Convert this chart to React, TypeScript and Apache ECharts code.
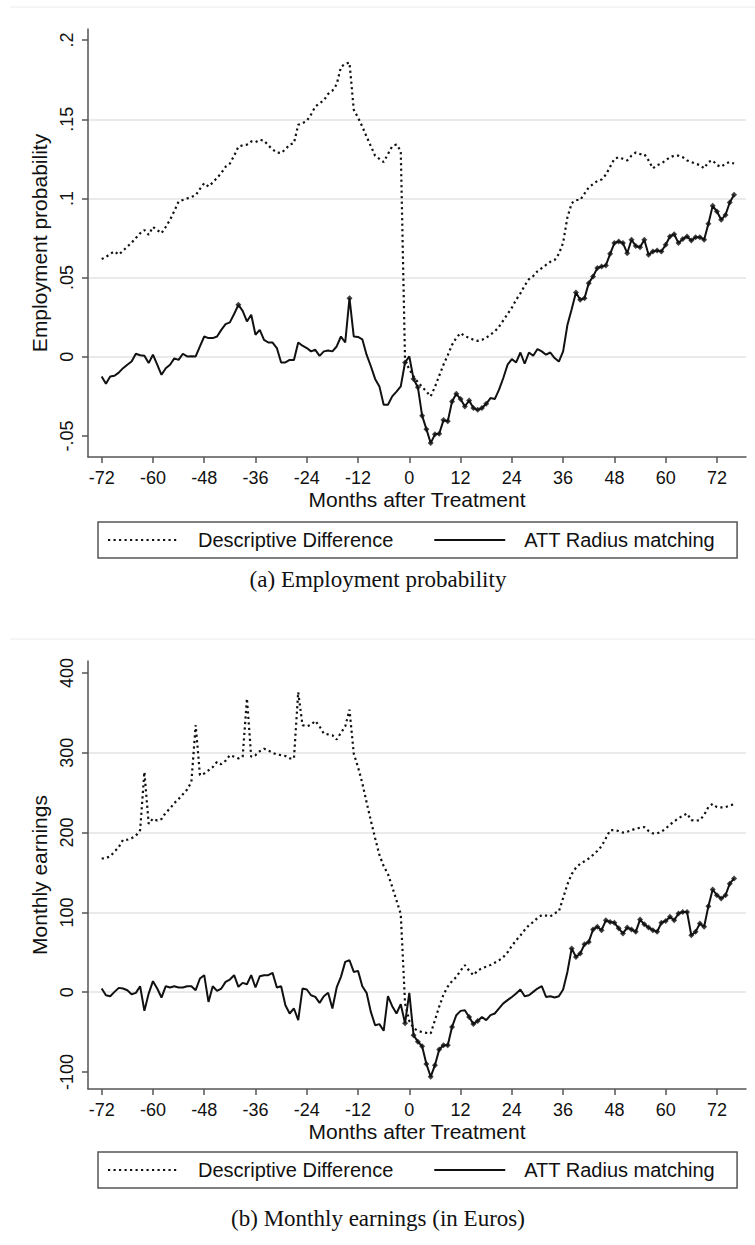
import React, { useEffect, useRef } from "react";
import * as echarts from "echarts";

// ---------- data ----------
const START_MONTH = -72; // first month of every series (months -72 .. 76)
const X_TICKS = [-72, -60, -48, -36, -24, -12, 0, 12, 24, 36, 48, 60, 72];
const EMP_TICKS = [-0.05, 0, 0.05, 0.1, 0.15, 0.2];
const EARN_TICKS = [-100, 0, 100, 200, 300, 400];
const SERIES_NAMES = ["Descriptive Difference", "ATT Radius matching"];
const X_TITLE = "Months after Treatment";
const EMP_TITLE = "Employment probability";
const EARN_TITLE = "Monthly earnings";
const CAPTIONS = ["(a) Employment probability", "(b) Monthly earnings (in Euros)"];

// Employment probability – descriptive difference
const empDesc = [
  0.0617, 0.063, 0.065, 0.0665, 0.0645, 0.067, 0.0696, 0.072, 0.075, 0.078,
  0.080, 0.077, 0.082, 0.080, 0.078, 0.082, 0.0865, 0.092, 0.098, 0.099,
  0.100, 0.101, 0.102, 0.106, 0.1096, 0.1075, 0.110, 0.113, 0.116, 0.120,
  0.122, 0.127, 0.1327, 0.1335, 0.134, 0.136, 0.1355, 0.137, 0.1365, 0.1335,
  0.131, 0.129, 0.1286, 0.131, 0.134, 0.1349, 0.1465, 0.1475, 0.149, 0.153,
  0.158, 0.160, 0.162, 0.166, 0.168, 0.172, 0.183, 0.185, 0.1858, 0.156,
  0.151, 0.1454, 0.139, 0.133, 0.127, 0.125, 0.123, 0.128, 0.133, 0.134,
  0.130, -0.002, -0.008, -0.0124, -0.016, -0.019, -0.022, -0.025, -0.019, -0.012,
  -0.005, 0.001, 0.0075, 0.012, 0.015, 0.013, 0.012, 0.0107, 0.010, 0.0107,
  0.012, 0.014, 0.016, 0.019, 0.023, 0.027, 0.031, 0.036, 0.040, 0.045,
  0.049, 0.051, 0.054, 0.056, 0.058, 0.060, 0.061, 0.065, 0.072, 0.088,
  0.097, 0.099, 0.099, 0.103, 0.107, 0.109, 0.111, 0.112, 0.115, 0.120,
  0.125, 0.126, 0.125, 0.124, 0.127, 0.129, 0.128, 0.128, 0.124, 0.119,
  0.121, 0.122, 0.124, 0.126, 0.127, 0.127, 0.126, 0.124, 0.123, 0.122,
  0.121, 0.119, 0.123, 0.124, 0.121, 0.120, 0.122, 0.123, 0.122,
];

// Employment probability – ATT radius matching
const empATT = [
  -0.0124, -0.017, -0.0124, -0.012, -0.010, -0.0072, -0.005, -0.003, 0.0019, 0.001,
  0.0006, -0.004, 0.0013, -0.005, -0.0114, -0.0072, -0.005, -0.001, -0.002, 0.0019,
  0.0002, 0.0004, 0.0002, 0.0065, 0.0128, 0.0118, 0.0118, 0.0128, 0.017, 0.0206,
  0.0217, 0.027, 0.0328, 0.029, 0.0223, 0.0265, 0.0139, 0.017, 0.0107, 0.009,
  0.009, 0.0055, -0.0036, -0.0036, -0.002, -0.002, 0.009, 0.007, 0.0055, 0.0034,
  0.0044, 0.0006, 0.0034, 0.004, 0.0034, 0.0065, 0.0128, 0.009, 0.037, 0.0128,
  0.0125, 0.011, 0.0013, -0.006, -0.014, -0.0187, -0.0303, -0.0303, -0.025, -0.022,
  -0.0187, -0.0036, 0.0002, -0.0141, -0.0192, -0.0372, -0.0457, -0.0545, -0.049, -0.0486,
  -0.040, -0.0408, -0.0282, -0.0234, -0.0267, -0.0314, -0.0276, -0.0324, -0.0335, -0.0324,
  -0.0297, -0.0261, -0.0267, -0.0208, -0.0134, -0.005, -0.0015, -0.0036, 0.0027, -0.0044,
  0.0027, 0.0006, 0.0049, 0.0034, 0.0013, 0.0027, -0.0008, -0.003, 0.0034, 0.020,
  0.030, 0.0406, 0.036, 0.037, 0.0465, 0.0507, 0.056, 0.057, 0.0577, 0.065,
  0.0718, 0.0728, 0.0718, 0.0654, 0.0739, 0.070, 0.0692, 0.0739, 0.0644, 0.0665,
  0.0671, 0.0665, 0.0707, 0.076, 0.0774, 0.0718, 0.0743, 0.076, 0.0734, 0.0755,
  0.0755, 0.0739, 0.084, 0.0953, 0.0917, 0.0865, 0.0896, 0.0974, 0.1023,
];

// Monthly earnings – descriptive difference
const earnDesc = [
  167.5, 168, 170.4, 176, 182, 191, 191, 193, 196, 203,
  276, 211, 217.5, 215, 217, 225, 230, 237, 242, 248,
  254, 263.5, 334.6, 272, 274, 278, 282, 288.6, 285.7, 290,
  297, 295, 293, 295, 368, 294.9, 297, 302, 305, 303,
  300, 298, 297, 296, 293, 293, 376, 334.6, 333, 335,
  340, 333, 324, 323, 322, 316.6, 325, 333, 354, 299,
  282, 262, 238, 215, 193, 172, 158, 148, 132, 115,
  98, -14, -36, -45, -48.5, -50, -51, -51.8, -35, -18,
  -3, 7, 14, 19, 27, 34, 27, 21.3, 27, 30,
  32, 34, 37, 40, 44, 50, 58, 65, 71, 78,
  84, 88, 93, 96.5, 96, 95, 99, 101, 118, 135,
  148, 156, 161, 164, 167.5, 172, 177, 183, 193, 203,
  203, 202, 200, 201, 203, 205, 206, 207, 202, 199,
  199, 201, 205, 210, 214, 218, 221, 224, 215.5, 215,
  215.5, 222, 232, 236, 232, 231.5, 232, 234, 235.6,
];

// Monthly earnings – ATT radius matching
const earnATT = [
  4.6, -3.8, -5, 0.4, 5.4, 4.6, 2.5, -2.5, -0.8, 7.5,
  -23.4, -1.7, 13.8, 4.6, -6.7, 7.5, 5.9, 7.5, 5.9, 5.9,
  7.5, 7.5, 2.5, 17.2, 21.3, -12.2, 7.5, 1.7, 4.6, 12.9,
  15.9, 21.3, 6.7, 11.7, 10, 21.3, 5.9, 20, 21.3, 21.3,
  24.2, 5.9, 7.5, -16.3, -26.7, -20.4, -35, 4.6, 3.4, -3.8,
  -5.9, -13.4, -5, -0.8, -20.4, 5.9, 19.2, 38, 40, 25.4,
  26.7, 7.5, -0.8, -24.7, -41.4, -40, -48.4, -5, -17.5, -26.7,
  -15, -39, -0.8, -54, -62, -67.7, -90, -106, -91.5, -71.8,
  -66.4, -66.4, -43.5, -28.8, -23.4, -22.6, -31, -40, -36, -31,
  -35, -28.8, -26.7, -20.4, -14, -10, -6, -1.7, 3.4, -5,
  -3.8, 0.4, 4.6, 7.5, -5.9, -5, -6.7, -5, 3.4, 25.4,
  54.8, 44.2, 48.5, 60, 63, 78.6, 82, 77.7, 90, 88,
  87, 80, 73.6, 81, 78.6, 75.6, 91, 85, 81, 77.7,
  75.6, 87, 89.3, 94.4, 90.2, 98.6, 100.6, 100.6, 71.4, 75.6,
  86, 82, 107.8, 128.7, 121.5, 117.4, 121.5, 136, 142.5,
];

// months whose ATT estimate carries a (significance) marker
const empMarkerMonths = [
  -40, -14, -1, 1, 2, 3, 4, 5, 6, 7, 8, 9, 10, 11, 12, 13, 14, 15, 16, 17, 18,
  39, 40, 41, 42, 43, 44, 45, 46, 47, 48, 49, 50, 51, 52, 53, 54, 55, 56, 57,
  58, 59, 60, 61, 62, 63, 64, 65, 66, 67, 68, 69, 70, 71, 72, 73, 74, 75, 76,
];
const earnMarkerMonths = [
  -1, 1, 2, 3, 4, 5, 6, 7, 8, 9, 10, 14, 15, 16,
  38, 39, 40, 41, 42, 43, 44, 45, 46, 47, 48, 49, 50, 51, 52, 53, 54, 55, 56, 57,
  58, 59, 60, 61, 62, 63, 64, 65, 66, 67, 68, 69, 70, 71, 72, 73, 74, 75, 76,
];

// ---------- helpers ----------
const FONT = '"Liberation Sans", Arial, sans-serif';
const SERIF = '"Liberation Serif", "Times New Roman", serif';
const INK = "#111";
const AXIS = "#555";

const toPairs = (vals: number[]) => vals.map((v, i) => [START_MONTH + i, v]);
const toMarkers = (vals: number[], ms: number[]) =>
  ms.map((m) => [m, vals[m - START_MONTH]]);

const fmtProb = (v: number) => {
  const r = Math.round(v * 100) / 100;
  if (r === 0) return "0";
  return String(r).replace("0.", ".");
};

function xAxisCfg(gridIndex: number) {
  return {
    type: "value",
    gridIndex,
    min: -75.2,
    max: 78.8,
    name: X_TITLE,
    nameLocation: "middle",
    nameGap: 32,
    nameTextStyle: { fontFamily: FONT, fontSize: 21, color: INK },
    axisLine: { show: true, onZero: false, lineStyle: { color: AXIS, width: 1.5 } },
    axisTick: {
      show: true,
      inside: false,
      length: 6,
      customValues: X_TICKS,
      lineStyle: { color: AXIS, width: 1.5 },
    },
    axisLabel: {
      customValues: X_TICKS,
      margin: 12,
      fontFamily: FONT,
      fontSize: 18,
      color: INK,
      formatter: (v: number) => String(Math.round(v)),
    },
    splitLine: { show: false },
  };
}

function yAxisCfg(
  gridIndex: number,
  min: number,
  max: number,
  ticks: number[],
  title: string,
  fmt: (v: number) => string
) {
  return {
    type: "value",
    gridIndex,
    min,
    max,
    name: title,
    nameLocation: "middle",
    nameRotate: 90,
    nameGap: 30,
    nameTextStyle: { fontFamily: FONT, fontSize: 21, color: INK },
    axisLine: { show: true, onZero: false, lineStyle: { color: AXIS, width: 1.5 } },
    axisTick: {
      show: true,
      inside: false,
      length: 6,
      customValues: ticks,
      lineStyle: { color: AXIS, width: 1.5 },
    },
    axisLabel: {
      customValues: ticks,
      rotate: 90,
      margin: 12,
      fontFamily: FONT,
      fontSize: 18,
      color: INK,
      formatter: fmt,
    },
    splitLine: {
      show: true,
      showMinLine: false,
      showMaxLine: false,
      lineStyle: { color: "#e3e3e3", width: 1.5 },
    },
  };
}

function legendCfg(top: number) {
  return {
    data: SERIES_NAMES,
    left: 98,
    top,
    orient: "horizontal",
    padding: [8, 22, 8, 9],
    itemGap: 40,
    itemWidth: 71,
    itemHeight: 14,
    borderColor: AXIS,
    borderWidth: 1.5,
    borderRadius: 0,
    backgroundColor: "#fff",
    selectedMode: false,
    itemStyle: { color: "rgba(0,0,0,0)", opacity: 0, borderWidth: 0 },
    textStyle: { fontFamily: FONT, fontSize: 20, color: INK, padding: [0, 0, 0, 14] },
  };
}

const DOT = { type: [2.2, 3.3], width: 2.2, color: "#111", cap: "butt" };
const SOLID = { type: "solid", width: 2, color: "#111" };

function seriesFor(idx: number, desc: number[], att: number[], marks: number[]) {
  return [
    {
      type: "line",
      name: SERIES_NAMES[0],
      xAxisIndex: idx,
      yAxisIndex: idx,
      data: toPairs(desc),
      symbol: "none",
      showSymbol: false,
      lineStyle: DOT,
      itemStyle: { color: "#111" },
      z: 2,
    },
    {
      type: "line",
      name: SERIES_NAMES[1],
      xAxisIndex: idx,
      yAxisIndex: idx,
      data: toPairs(att),
      symbol: "none",
      showSymbol: false,
      lineStyle: SOLID,
      itemStyle: { color: "#111" },
      z: 3,
    },
    {
      type: "scatter",
      name: "ATT markers",
      xAxisIndex: idx,
      yAxisIndex: idx,
      data: toMarkers(att, marks),
      symbol: "diamond",
      symbolSize: 6,
      itemStyle: { color: "#111" },
      z: 4,
    },
  ];
}

export default function App() {
  const ref = useRef<HTMLDivElement>(null);

  useEffect(() => {
    if (!ref.current) return;
    const chart = echarts.init(ref.current, null, { renderer: "svg" });
    const option: any = {
      animation: false,
      backgroundColor: "#ffffff",
      textStyle: { fontFamily: FONT },
      grid: [
        { left: 88, top: 29, width: 658, height: 428, containLabel: false },
        { left: 88, top: 661, width: 658, height: 428, containLabel: false },
      ],
      xAxis: [xAxisCfg(0), xAxisCfg(1)],
      yAxis: [
        yAxisCfg(0, -0.0633, 0.207, EMP_TICKS, EMP_TITLE, fmtProb),
        yAxisCfg(1, -121.3, 415, EARN_TICKS, EARN_TITLE, (v: number) => String(Math.round(v))),
      ],
      legend: [legendCfg(522), legendCfg(1152)],
      series: [
        ...seriesFor(0, empDesc, empATT, empMarkerMonths),
        ...seriesFor(1, earnDesc, earnATT, earnMarkerMonths),
      ],
      graphic: [
        { type: "line", shape: { x1: 10, y1: 7, x2: 755, y2: 7 }, style: { stroke: "#ececec", lineWidth: 1 } },
        { type: "line", shape: { x1: 10, y1: 639, x2: 755, y2: 639 }, style: { stroke: "#ececec", lineWidth: 1 } },
        {
          type: "text",
          x: 378,
          y: 579,
          style: { text: CAPTIONS[0], fontFamily: SERIF, fontSize: 23, fill: INK, align: "center", verticalAlign: "middle" },
        },
        {
          type: "text",
          x: 378,
          y: 1218,
          style: { text: CAPTIONS[1], fontFamily: SERIF, fontSize: 23, fill: INK, align: "center", verticalAlign: "middle" },
        },
      ],
    };
    chart.setOption(option);
    return () => chart.dispose();
  }, []);

  return (
    <div
      ref={ref}
      style={{ position: "absolute", left: 0, top: 0, width: 755, height: 1245, background: "#fff" }}
    />
  );
}
